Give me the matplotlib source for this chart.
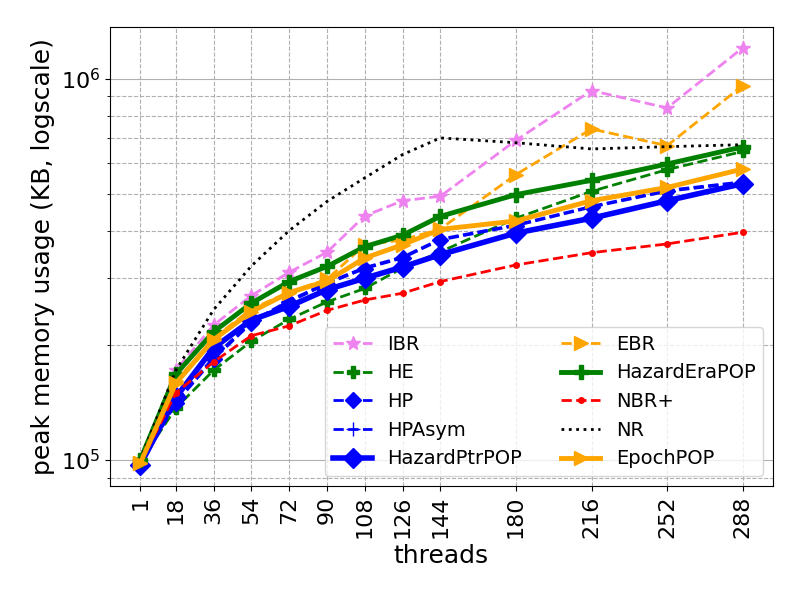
import matplotlib
matplotlib.use("Agg")
import matplotlib.pyplot as plt

threads = [1, 18, 36, 54, 72, 90, 108, 126, 144, 180, 216, 252, 288]

# peak memory usage in KB
ibr = [99000, 172000, 226000, 270000, 311000, 351000, 437000, 479000, 492000, 690000, 932000, 839000, 1206000]
he = [99000, 137000, 172000, 205000, 234000, 260000, 282000, 319000, 352000, 431000, 507000, 578000, 645000]
hp = [97000, 141000, 184000, 229000, 260000, 290000, 318000, 339000, 378000, 412000, 461000, 507000, 534000]
hpasym = [97500, 143000, 186000, 231000, 262000, 292000, 320000, 341000, 380000, 414000, 463000, 510000, 537000]
hazardptrpop = [97000, 146000, 197000, 233000, 253000, 280000, 300000, 321000, 346000, 394000, 431000, 479000, 531000]
ebr = [98000, 161000, 209000, 249000, 276000, 298000, 367000, 378000, 404000, 561000, 739000, 668000, 960000]
hazarderapop = [100000, 168000, 217000, 258000, 294000, 322000, 363000, 389000, 436000, 497000, 542000, 598000, 663000]
nbr = [98000, 150000, 181000, 212000, 225000, 247000, 263000, 274000, 294000, 325000, 350000, 369000, 396000]
nr = [100000, 172000, 248000, 323000, 400000, 477000, 550000, 633000, 700000, 680000, 655000, 664000, 672000]
epochpop = [98000, 159000, 207000, 245000, 275000, 295000, 339000, 367000, 403000, 424000, 479000, 519000, 580000]

fig = plt.figure(figsize=(8, 6), dpi=100)
ax = fig.add_subplot(111)
fig.subplots_adjust(left=0.1375, right=0.966, top=0.955, bottom=0.19)

ax.plot(threads, ibr, color="violet", linestyle="--", lw=2, marker="*", ms=10, label="IBR")
ax.plot(threads, he, color="green", linestyle="--", lw=2, marker="P", ms=9, label="HE")
ax.plot(threads, hp, color="blue", linestyle="--", lw=2, marker="D", ms=8, label="HP")
ax.plot(threads, hpasym, color="blue", linestyle="--", lw=2, marker="+", ms=10, label="HPAsym")
ax.plot(threads, hazardptrpop, color="blue", linestyle="-", lw=4, marker="D", ms=10, label="HazardPtrPOP")
ax.plot(threads, ebr, color="orange", linestyle="--", lw=2, marker=">", ms=10, label="EBR")
ax.plot(threads, hazarderapop, color="green", linestyle="-", lw=3.5, marker="P", ms=10, label="HazardEraPOP")
ax.plot(threads, nbr, color="red", linestyle="--", lw=2, marker=".", ms=8, label="NBR+")
ax.plot(threads, nr, color="black", linestyle=":", lw=2, label="NR")
ax.plot(threads, epochpop, color="orange", linestyle="-", lw=3.5, marker=">", ms=10, label="EpochPOP")

ax.set_yscale("log")
ax.set_xticks(threads)
ax.set_xticklabels([str(t) for t in threads], rotation=90)
ax.tick_params(axis="both", which="major", labelsize=16)

ax.xaxis.grid(True, which="major", linestyle="--", color="#b0b0b0")
ax.yaxis.grid(True, which="major", linestyle="-", color="#b0b0b0")
ax.yaxis.grid(True, which="minor", linestyle="--", color="#b0b0b0")

ax.set_xlabel("threads", fontsize=18)
ax.set_ylabel("peak memory usage (KB, logscale)", fontsize=18)
ax.legend(ncol=2, loc="lower right", fontsize=14)

fig.savefig("out.png")
